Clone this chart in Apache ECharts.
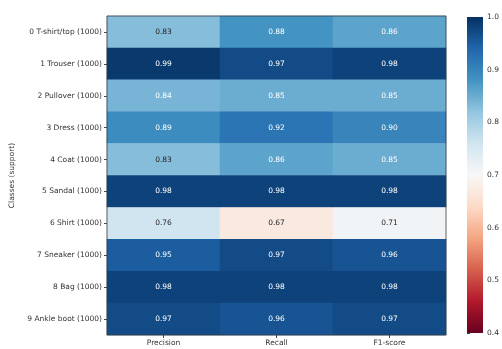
<!DOCTYPE html>
<html>
<head>
<meta charset="utf-8">
<script src="https://cdn.jsdelivr.net/npm/echarts@6/dist/echarts.min.js"></script>
<style>
  html, body { margin: 0; padding: 0; background: #fff; }
  #chart { width: 502px; height: 349px; }
</style>
</head>
<body>
<div id="chart"></div>
<script>
// Per-class classification report (10 classes, 1000 samples each)
const classes = [
  '0 T-shirt/top (1000)', '1 Trouser (1000)', '2 Pullover (1000)', '3 Dress (1000)',
  '4 Coat (1000)', '5 Sandal (1000)', '6 Shirt (1000)', '7 Sneaker (1000)',
  '8 Bag (1000)', '9 Ankle boot (1000)'
];
const metrics = ['Precision', 'Recall', 'F1-score'];
const precision = [0.83, 0.99, 0.84, 0.89, 0.83, 0.98, 0.76, 0.95, 0.98, 0.97];
const recall    = [0.88, 0.97, 0.85, 0.92, 0.86, 0.98, 0.67, 0.97, 0.98, 0.96];
const f1score   = [0.86, 0.98, 0.85, 0.90, 0.85, 0.98, 0.71, 0.96, 0.98, 0.97];
const colorbarTicks = [0.4, 0.5, 0.6, 0.7, 0.8, 0.9, 1.0];

// RdBu diverging palette, low (red) to high (blue)
const rdbu = ['#67001f', '#b2182b', '#d6604d', '#f4a582', '#fddbc7', '#f7f7f7',
              '#d1e5f0', '#92c5de', '#4393c3', '#2166ac', '#053061'];
const vmin = 0.4, vmax = 1.0;

function hexToRgb(h) {
  return [parseInt(h.slice(1, 3), 16), parseInt(h.slice(3, 5), 16), parseInt(h.slice(5, 7), 16)];
}
function colorFor(v) {
  const t = Math.min(1, Math.max(0, (v - vmin) / (vmax - vmin))) * (rdbu.length - 1);
  const i = Math.min(rdbu.length - 2, Math.floor(t));
  const f = t - i;
  const a = hexToRgb(rdbu[i]), b = hexToRgb(rdbu[i + 1]);
  return a.map((c, k) => c + (b[k] - c) * f);
}
function luminance(rgb) {
  const lin = rgb.map(c => { c /= 255; return c <= 0.03928 ? c / 12.92 : Math.pow((c + 0.055) / 1.055, 2.4); });
  return 0.2126 * lin[0] + 0.7152 * lin[1] + 0.0722 * lin[2];
}

// Dark text on light cells, white text on saturated cells
const columns = [precision, recall, f1score];
const data = [];
columns.forEach((col, x) => {
  col.forEach((v, y) => {
    const textColor = luminance(colorFor(v)) > 0.44 ? '#262626' : '#ffffff';
    data.push({ value: [x, y, v], label: { color: textColor } });
  });
});

// Colour bar geometry
const cbar = { left: 467, top: 17, width: 16, height: 316 };
const gradientStops = rdbu.map((c, i) => ({ offset: 1 - i / (rdbu.length - 1), color: c }))
  .sort((a, b) => a.offset - b.offset);

const font = 'DejaVu Sans';
const fs = 7.5;
const chart = echarts.init(document.getElementById('chart'));
chart.setOption({
  animation: false,
  backgroundColor: '#ffffff',
  grid: [
    { left: 107, right: 56, top: 16, bottom: 14, show: true, z: 5,
      backgroundColor: 'transparent', borderColor: '#3a3a3a', borderWidth: 0.8 },
    { left: cbar.left, width: cbar.width, top: cbar.top, height: cbar.height }
  ],
  xAxis: [
    {
      type: 'category', data: metrics, gridIndex: 0,
      axisLine: { show: false },
      axisTick: { show: true, alignWithLabel: true, length: 3, lineStyle: { color: '#444' } },
      axisLabel: { fontFamily: font, fontSize: fs, color: '#333', margin: 4 },
      splitLine: { show: false }
    },
    { type: 'value', gridIndex: 1, show: false, min: 0, max: 1 }
  ],
  yAxis: [
    {
      type: 'category', data: classes, inverse: true, gridIndex: 0,
      name: 'Classes (support)', nameLocation: 'middle', nameGap: 84,
      nameTextStyle: { fontFamily: font, fontSize: fs, color: '#333' },
      axisLine: { show: false },
      axisTick: { show: true, alignWithLabel: true, length: 3, lineStyle: { color: '#444' } },
      axisLabel: { fontFamily: font, fontSize: fs, color: '#333', margin: 5 },
      splitLine: { show: false }
    },
    {
      type: 'value', gridIndex: 1, position: 'right',
      min: colorbarTicks[0], max: colorbarTicks[colorbarTicks.length - 1], interval: 0.1,
      axisLine: { show: false },
      axisTick: { show: true, length: 3, lineStyle: { color: '#444' } },
      axisLabel: { fontFamily: font, fontSize: fs, color: '#333', margin: 4,
                   formatter: v => v.toFixed(1) },
      splitLine: { show: false }
    }
  ],
  visualMap: {
    type: 'continuous', min: vmin, max: vmax, seriesIndex: 0, show: false,
    inRange: { color: rdbu }
  },
  graphic: [
    {
      type: 'rect', z: 10,
      shape: { x: cbar.left, y: cbar.top, width: cbar.width, height: cbar.height },
      style: { fill: new echarts.graphic.LinearGradient(0, 0, 0, 1, gradientStops) }
    }
  ],
  series: [
    {
      type: 'heatmap', xAxisIndex: 0, yAxisIndex: 0, z: 2,
      data: data,
      label: {
        show: true, fontFamily: font, fontSize: fs,
        formatter: p => p.value[2].toFixed(2)
      },
      itemStyle: { borderWidth: 0 },
      emphasis: { disabled: true }
    }
  ]
});
</script>
</body>
</html>
